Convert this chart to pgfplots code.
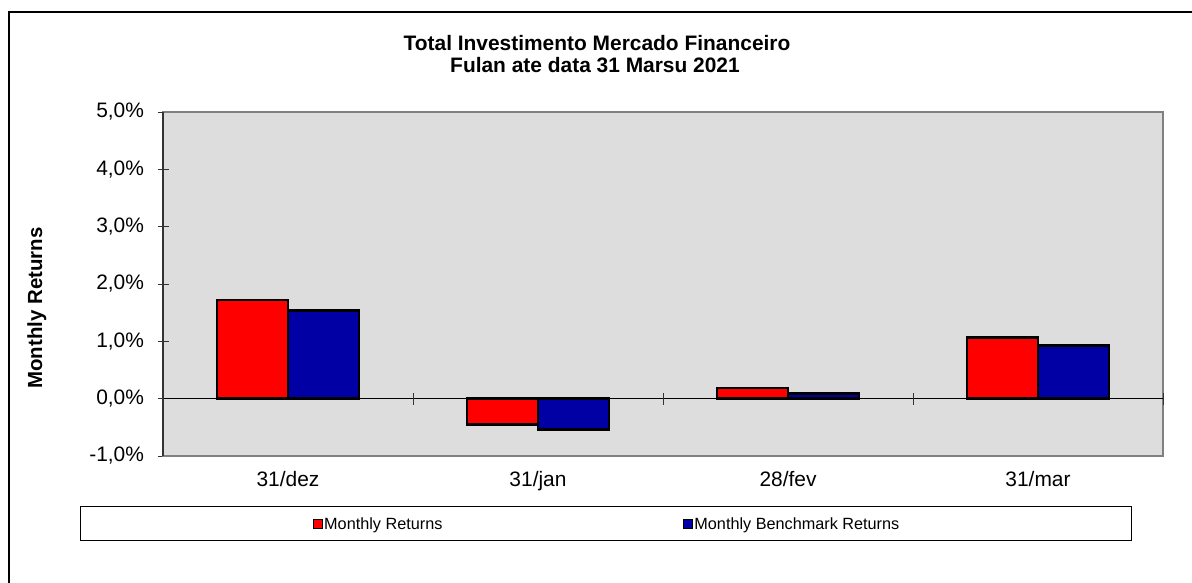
\documentclass[border=0pt]{standalone}
\usepackage{pgfplots}
\pgfplotsset{compat=1.18}
\usepackage{fontspec}
\setmainfont{Liberation Sans}
\definecolor{plotbg}{RGB}{221,221,221}
\definecolor{barred}{RGB}{255,0,0}
\definecolor{barblue}{RGB}{0,0,165}
\definecolor{framegray}{RGB}{128,128,128}
\begin{document}
\begin{tikzpicture}[x=1bp,y=1bp]
\useasboundingbox (0,0) rectangle (1192,583);
\draw[line width=2.5bp] (9,-10) -- (9,571) -- (1200,571);
\node[anchor=base,font=\bfseries\fontsize{21}{24}\selectfont] at (597,532) {Total Investimento Mercado Financeiro};
\node[anchor=base,font=\bfseries\fontsize{21}{24}\selectfont] at (595,510) {Fulan ate data 31 Marsu 2021};
\node[anchor=base,rotate=90,font=\bfseries\fontsize{20.5}{24}\selectfont] at (42,275) {Monthly Returns};
\draw[black, line width=1bp] (80,42) rectangle (1131,76);
\begin{axis}[
  at={(163bp,127bp)}, anchor=south west,
  scale only axis, width=1000bp, height=344bp,
  xmin=-0.5, xmax=3.5, ymin=-1, ymax=5,
  ybar=0pt, bar width=71bp,
  axis background/.style={fill=plotbg},
  axis line style={draw=framegray, line width=2bp},
  xtick={0,1,2,3}, xticklabels={31/dez,31/jan,28/fev,31/mar},
  xtick style={draw=none},
  ytick={-1,0,1,2,3,4,5},
  ytick pos=left,
  ytick style={draw=black!80, line width=0.8bp},
  major tick length=11bp, tick align=center,
  yticklabel={\pgfmathprintnumber[fixed,fixed zerofill,precision=1,use comma]{\tick}\%},
  /pgf/number format/assume math mode=true,
  tick label style={font=\fontsize{21}{24}\selectfont},
  yticklabel style={xshift=-10bp},
  xticklabel style={yshift=-6bp},
  clip=false,
  legend entries={Monthly Returns, Monthly Benchmark Returns},
  legend columns=2,
  legend style={at={(0.15,-0.1977)}, anchor=west, draw=none, fill=none,
    font=\fontsize{16.3}{18}\selectfont, inner sep=0pt,
    nodes={inner sep=1bp},
    /tikz/every even column/.append style={column sep=240bp}},
  legend image code/.code={\draw[#1, draw=black, line width=1bp] (0bp,-4.5bp) rectangle (9bp,4.5bp);},
]
\draw[black, line width=0.8bp] (axis cs:-0.5,0) -- (axis cs:3.5,0);
\pgfplotsinvokeforeach{0.5,1.5,2.5,3.5}{
  \draw[black!80, line width=0.8bp] ([yshift=-6bp]axis cs:#1,0) -- ([yshift=6bp]axis cs:#1,0);
}
\addplot[fill=barred, draw=black, line width=2.5bp] coordinates {(0,1.72) (1,-0.45) (2,0.19) (3,1.07)};
\addplot[fill=barblue, draw=black, line width=2.5bp] coordinates {(0,1.54) (1,-0.54) (2,0.09) (3,0.93)};
\draw[black!80, line width=1.5bp] (axis cs:-0.5,-1) -- (axis cs:-0.5,5);
\end{axis}
\end{tikzpicture}
\end{document}
